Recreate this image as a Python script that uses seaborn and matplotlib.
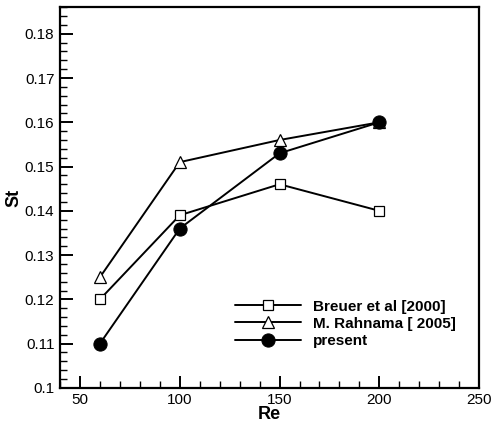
import pandas as pd
import matplotlib
matplotlib.use("Agg")
from matplotlib import pyplot as plt
from matplotlib.ticker import MultipleLocator
import seaborn as sns

re_vals = [60, 100, 150, 200]
st_breuer = [0.120, 0.139, 0.146, 0.140]
st_rahnama = [0.125, 0.151, 0.156, 0.160]
st_present = [0.110, 0.136, 0.153, 0.160]
labels = ["Breuer et al [2000]", "M. Rahnama [ 2005]", "present"]

sns.set_style("ticks")
plt.rcParams['font.family'] = ['Liberation Sans', 'DejaVu Sans']
plt.rcParams['text.color'] = "black"
plt.rcParams['axes.labelcolor'] = "black"
plt.rcParams['xtick.color'] = "black"
plt.rcParams['ytick.color'] = "black"

fig = plt.figure(figsize=(4.96, 4.23), dpi=100)
ax = fig.add_axes([0.121, 0.083, 0.845, 0.9])

series = [
    (st_breuer, dict(marker="s", markersize=7, markerfacecolor="white", markeredgecolor="black", markeredgewidth=0.9)),
    (st_rahnama, dict(marker="^", markersize=8, markerfacecolor="white", markeredgecolor="black", markeredgewidth=0.9)),
    (st_present, dict(marker="o", markersize=9.5, markerfacecolor="black", markeredgecolor="black")),
]
for (vals, mk), lab in zip(series, labels):
    df = pd.DataFrame({"Re": re_vals, "St": vals})
    sns.lineplot(data=df, x="Re", y="St", ax=ax, color="black", linewidth=1.4,
                 label=lab, **mk)

ax.set_xlim(40, 250)
ax.set_ylim(0.1, 0.186)
ax.xaxis.set_major_locator(MultipleLocator(50))
ax.xaxis.set_minor_locator(MultipleLocator(10))
ax.yaxis.set_major_locator(MultipleLocator(0.01))
ax.yaxis.set_minor_locator(MultipleLocator(0.002))
ax.set_yticklabels(["0.1" if abs(t - 0.1) < 1e-9 else f"{t:.2f}" for t in ax.get_yticks()])
ax.tick_params(which="major", direction="in", length=9, width=1.4, labelsize=11, pad=4)
ax.tick_params(which="minor", direction="in", length=5, width=1.0)
ax.tick_params(top=False, right=False)
for s in ax.spines.values():
    s.set_linewidth(1.6)
    s.set_color("black")

ax.set_xlabel("Re", fontsize=13, fontweight="bold", labelpad=-1)
ax.set_ylabel("St", fontsize=13, fontweight="bold", labelpad=2)

leg = ax.legend(loc="lower left", bbox_to_anchor=(0.385, 0.069), frameon=False,
                handlelength=4.3, handletextpad=0.8, labelspacing=0.2,
                prop={"weight": "bold", "size": 11})

fig.savefig("out.png", dpi=100)
